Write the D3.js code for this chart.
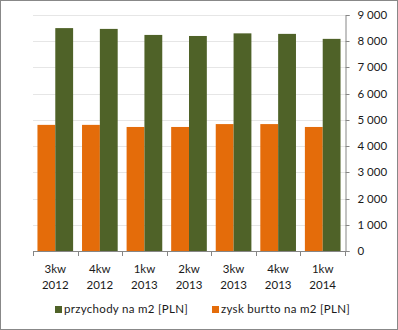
<!DOCTYPE html>
<html>
<head>
<meta charset="utf-8">
<script src="https://cdn.jsdelivr.net/npm/d3@7"></script>
<style>
html,body{margin:0;padding:0;background:#fff;}
svg{display:block;}
</style>
</head>
<body>
<script>
const categories = [["3kw","2012"],["4kw","2012"],["1kw","2013"],["2kw","2013"],["3kw","2013"],["4kw","2013"],["1kw","2014"]];
const przychody = [8500, 8470, 8240, 8200, 8300, 8280, 8090];
const zysk = [4810, 4810, 4730, 4730, 4840, 4840, 4730];
const yTicks = [0,1000,2000,3000,4000,5000,6000,7000,8000,9000];
const seriesNames = ["zysk burtto na m2 [PLN]", "przychody na m2 [PLN]"];
const seriesColors = ["#E46C0A", "#4F6228"];
const legendOrder = ["przychody na m2 [PLN]", "zysk burtto na m2 [PLN]"];

const W = 398, H = 330;
const font = "Lato, 'Open Sans', sans-serif";
const svg = d3.select("body").append("svg").attr("width", W).attr("height", H);

svg.append("rect").attr("x",0.5).attr("y",0.5).attr("width",W-1).attr("height",H-1)
  .attr("fill","#fff").attr("stroke","#888").attr("stroke-width",1);

const keys = categories.map(c => c.join(" "));
const x0 = d3.scaleBand().domain(keys).range([33, 345]).padding(0);
const x1 = d3.scaleBand().domain(seriesNames).range([0, x0.bandwidth()]).paddingInner(0).paddingOuter(0.25);
const y = d3.scaleLinear().domain([0, 9000]).range([251, 15]);

// gridlines
svg.append("g").selectAll("line").data(yTicks.filter(d => d > 0)).join("line")
  .attr("x1", 33).attr("x2", 345)
  .attr("y1", d => Math.round(y(d)) + 0.5).attr("y2", d => Math.round(y(d)) + 0.5)
  .attr("stroke", "#e6e6e6").attr("stroke-width", 1);

// bars
const data = categories.map((c, i) => ({key: keys[i], vals: [zysk[i], przychody[i]]}));
const g = svg.append("g").selectAll("g").data(data).join("g")
  .attr("transform", d => `translate(${x0(d.key)},0)`);
g.selectAll("rect").data(d => d.vals.map((v, j) => ({name: seriesNames[j], v, c: seriesColors[j]}))).join("rect")
  .attr("x", d => x1(d.name)).attr("width", x1.bandwidth())
  .attr("y", d => y(d.v)).attr("height", d => y(0) - y(d.v))
  .attr("fill", d => d.c);

// right axis
const yAxis = d3.axisRight(y).tickValues(yTicks).tickSize(4).tickPadding(8)
  .tickFormat(d => d3.format(",")(d).replace(/,/g, " "));
const ya = svg.append("g").attr("transform", "translate(345.5,0)").call(yAxis);
ya.select(".domain").attr("stroke", "#868686");
ya.selectAll(".tick line").attr("stroke", "#868686");
ya.selectAll(".tick text").attr("font-family", font).attr("font-size", 11.5).attr("fill", "#1a1a1a");
ya.selectAll(".tick").attr("transform", d => `translate(0,${Math.round(y(d)) + 0.5})`);

// x axis baseline + ticks
svg.append("line").attr("x1", 33).attr("x2", 345).attr("y1", 251.5).attr("y2", 251.5).attr("stroke", "#868686");
const bounds = keys.map(k => x0(k)).concat([345]);
svg.append("g").selectAll("line").data(bounds).join("line")
  .attr("x1", d => Math.round(d) + 0.5).attr("x2", d => Math.round(d) + 0.5)
  .attr("y1", 251).attr("y2", 256).attr("stroke", "#868686");

// x labels
const xl = svg.append("g").selectAll("text").data(categories.map((c, i) => ({c, k: keys[i]}))).join("text")
  .attr("font-family", font).attr("font-size", 11.5).attr("fill", "#1a1a1a").attr("text-anchor", "middle");
xl.append("tspan").attr("x", d => x0(d.k) + x0.bandwidth()/2).attr("y", 273).text(d => d.c[0]);
xl.append("tspan").attr("x", d => x0(d.k) + x0.bandwidth()/2).attr("y", 289).text(d => d.c[1]);

// legend
const legX = [55, 212];
const lg = svg.append("g").selectAll("g").data(legendOrder).join("g")
  .attr("transform", (d, i) => `translate(${legX[i]},0)`);
lg.append("rect").attr("x", 0).attr("y", 306).attr("width", 7).attr("height", 7)
  .attr("fill", d => seriesColors[seriesNames.indexOf(d)]);
lg.append("text").attr("x", 9).attr("y", 313).attr("font-family", font).attr("font-size", 11.5)
  .attr("letter-spacing", 0.3).attr("fill", "#1a1a1a").text(d => d);
</script>
</body>
</html>
